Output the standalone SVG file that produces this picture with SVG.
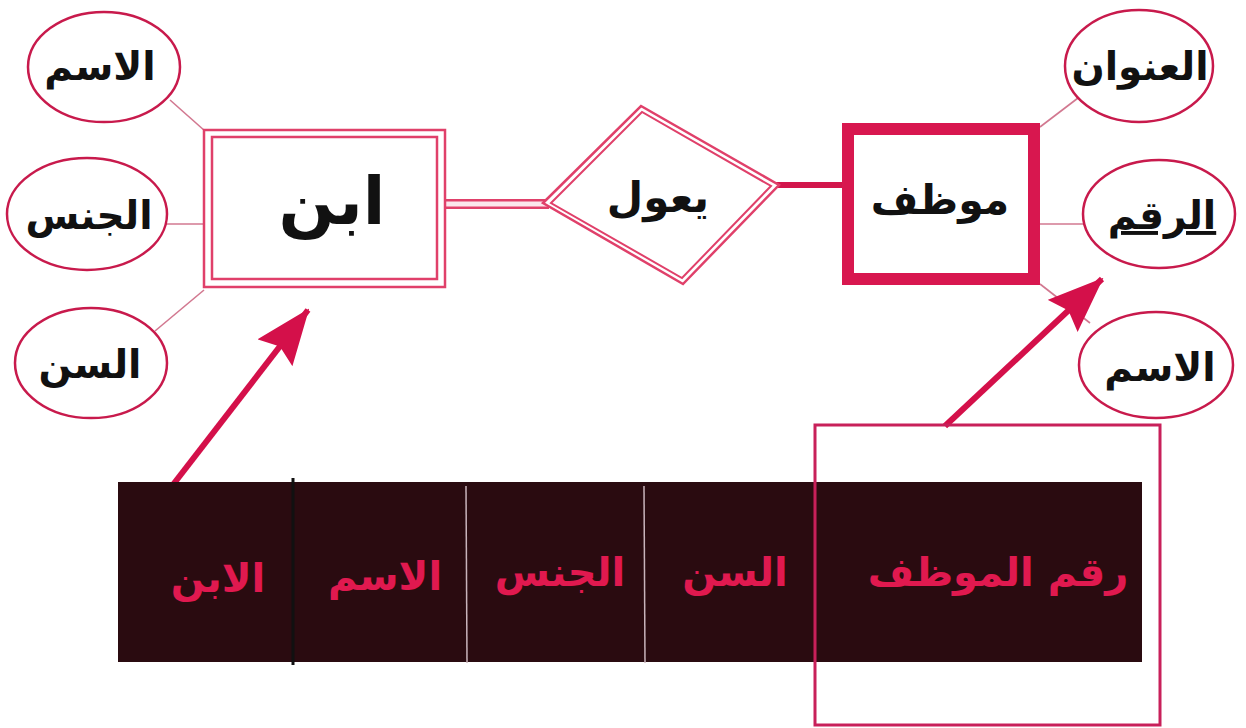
<svg xmlns="http://www.w3.org/2000/svg" width="1246" height="728" viewBox="0 0 1246 728">
<style>
.ell{fill:#fff;stroke:#c81a4c;stroke-width:2.5}
.lbl{font-family:"DejaVu Sans",sans-serif;font-weight:bold;fill:#111;text-anchor:middle}
.att{font-size:39px}
.conn{stroke:#d27890;stroke-width:1.6;fill:none}
.cell{font-family:"DejaVu Sans",sans-serif;font-weight:bold;fill:#e0194f;font-size:40px;text-anchor:middle}
.arrow{stroke:#d4104a;stroke-width:6;fill:none}
</style>
<defs>
<marker id="ah" markerUnits="userSpaceOnUse" markerWidth="56" markerHeight="44" viewBox="0 0 56 44" refX="54" refY="22" orient="auto">
<path d="M0,0 L56,22 L0,44 L8,22 z" fill="#d4104a"/>
</marker>
</defs>
<rect width="1246" height="728" fill="#fff"/>
<g id="connectors">
<line class="conn" x1="170" y1="100" x2="205" y2="131"/>
<line class="conn" x1="166" y1="224" x2="212" y2="224"/>
<line class="conn" x1="155" y1="331" x2="204" y2="290"/>
<line class="conn" x1="1040" y1="127" x2="1078" y2="98"/>
<line class="conn" x1="1040" y1="224" x2="1084" y2="224"/>
<line class="conn" x1="1040" y1="284" x2="1090" y2="323"/>
<line x1="441" y1="204" x2="549" y2="204" stroke="#e0406a" stroke-width="10"/>
<line x1="443" y1="204" x2="547" y2="204" stroke="#fbe6ec" stroke-width="5"/>
<line x1="776" y1="185" x2="848" y2="185" stroke="#d2164c" stroke-width="6"/>
<line class="arrow" x1="172" y1="486" x2="308" y2="310" marker-end="url(#ah)"/>
<line class="arrow" x1="945" y1="426" x2="1102" y2="279" marker-end="url(#ah)"/>
</g>
<g id="attr-name-left">
<ellipse class="ell" cx="104" cy="67" rx="76" ry="55"/>
<text class="lbl att" x="100" y="80">الاسم</text>
</g>
<g id="attr-gender">
<ellipse class="ell" cx="87" cy="214" rx="80" ry="56"/>
<text class="lbl att" x="89" y="229">الجنس</text>
</g>
<g id="attr-age">
<ellipse class="ell" cx="91" cy="363" rx="76" ry="55"/>
<text class="lbl att" x="90" y="378">السن</text>
</g>
<g id="entity-son">
<rect x="204" y="130" width="241" height="157" fill="#fff" stroke="#e0406a" stroke-width="2.5"/>
<rect x="212" y="137" width="225" height="142" fill="none" stroke="#e0406a" stroke-width="2.5"/>
<text class="lbl" x="332" y="224" font-size="66">ابن</text>
</g>
<g id="rel-supports">
<polygon points="543,203 641,106 779,185 683,284" fill="#fff" stroke="#e0406a" stroke-width="2.5"/>
<polygon points="551,203 642,112 771,186 682,278" fill="none" stroke="#e0406a" stroke-width="2"/>
<text class="lbl" x="658" y="212" font-size="42">يعول</text>
</g>
<g id="entity-employee">
<rect x="848" y="129" width="186" height="150" fill="#fff" stroke="#d8174f" stroke-width="12"/>
<text class="lbl" x="940" y="214" font-size="41">موظف</text>
</g>
<g id="attr-address">
<ellipse class="ell" cx="1139" cy="66" rx="74" ry="56"/>
<text class="lbl att" x="1140" y="80">العنوان</text>
</g>
<g id="attr-number">
<ellipse class="ell" cx="1159" cy="214" rx="76" ry="54"/>
<text class="lbl att" x="1162" y="229" text-decoration="underline">الرقم</text>
</g>
<g id="attr-name-right">
<ellipse class="ell" cx="1156" cy="365" rx="77" ry="53"/>
<text class="lbl att" x="1160" y="381">الاسم</text>
</g>
<g id="table">
<rect x="118" y="482" width="1024" height="180" fill="#2a0b10"/>
<line x1="293" y1="478" x2="293" y2="665" stroke="#111" stroke-width="3"/>
<line x1="466" y1="486" x2="467" y2="663" stroke="#c9b4bb" stroke-width="1.5"/>
<line x1="644" y1="486" x2="645" y2="663" stroke="#c9b4bb" stroke-width="1.5"/>
<text class="cell" x="218" y="592" font-size="44">الابن</text>
<text class="cell" x="385" y="590">الاسم</text>
<text class="cell" x="560" y="586">الجنس</text>
<text class="cell" x="735" y="586">السن</text>
<text class="cell" x="998" y="586" font-size="38">رقم الموظف</text>
</g>
<g id="key-highlight">
<rect x="815" y="425" width="345" height="300" fill="none" stroke="#c8205a" stroke-width="3"/>
</g>
</svg>
